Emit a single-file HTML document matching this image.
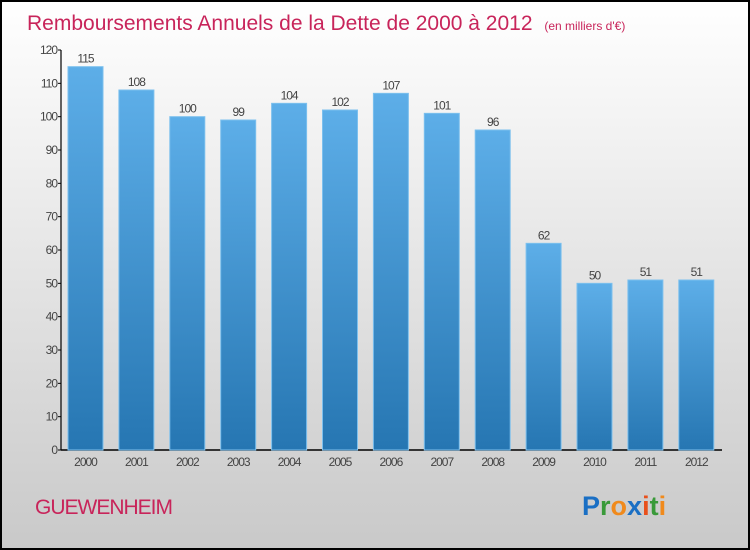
<!DOCTYPE html>
<html><head><meta charset="utf-8"><style>
body{margin:0;width:750px;height:550px;overflow:hidden}
svg{display:block;font-family:"Liberation Sans",sans-serif}
</style></head><body>
<svg id="c" width="750" height="550" xmlns="http://www.w3.org/2000/svg">
<defs>
<linearGradient id="bg" x1="0" y1="0" x2="0" y2="1"><stop offset="0" stop-color="#ffffff"/><stop offset="1" stop-color="#c9c9c9"/></linearGradient>
<linearGradient id="bar" x1="0" y1="0" x2="0" y2="1"><stop offset="0" stop-color="#5daee8"/><stop offset="1" stop-color="#2676b2"/></linearGradient>
</defs>
<rect x="1" y="1" width="748" height="548" fill="url(#bg)" stroke="#000" stroke-width="2"/>
<text x="27" y="30" font-size="21" fill="#c8245a">Remboursements Annuels de la Dette de 2000 à 2012 <tspan font-size="12" dx="6">(en milliers d'€)</tspan></text>
<g id="axes"></g>
<g id="bars"></g>
<text x="35" y="514" font-size="21" fill="#c8245a" letter-spacing="-1">GUEWENHEIM</text>
<text x="582" y="515" font-size="27" font-weight="bold"><tspan fill="#1a6fc4">P</tspan><tspan fill="#3a9a3a">r</tspan><tspan fill="#f08a1c">o</tspan><tspan fill="#1a6fc4">x</tspan><tspan fill="#e8501c">i</tspan><tspan fill="#3a9a3a">t</tspan><tspan fill="#f08a1c">i</tspan></text>
</svg>
<script>
const categories=["2000","2001","2002","2003","2004","2005","2006","2007","2008","2009","2010","2011","2012"];
const values=[115,108,100,99,104,102,107,101,96,62,50,51,51];
const yTicks=[0,10,20,30,40,50,60,70,80,90,100,110,120];
const NS="http://www.w3.org/2000/svg";
const x0=61,x1=722,yb=450,yt=50,ymax=120;
const y=v=>yb-(yb-yt)*v/ymax;
const step=50.9,first=85.5;
const xc=i=>first+i*step;
function mk(t,a,p,txt){const e=document.createElementNS(NS,t);for(const k in a)e.setAttribute(k,a[k]);if(txt!=null)e.textContent=txt;p.appendChild(e);return e;}
const ax=document.getElementById('axes'),bs=document.getElementById('bars');
let l=mk('line',{x1:x0,y1:yt,x2:x0,y2:yb,stroke:'#000','stroke-width':1.2},ax);


l=mk('line',{x1:x0,y1:yb,x2:x1,y2:yb,stroke:'#000','stroke-width':1.5},ax);


yTicks.forEach(v=>{
 mk('line',{x1:x0-3,y1:y(v),x2:x0,y2:y(v),stroke:'#000'},ax);
 const t=mk('text',{x:x0-4,y:y(v)+4,'font-size':12,fill:'#444','text-anchor':'end','letter-spacing':'-1'},ax,v);
 
 
});
values.forEach((v,i)=>{
 const r=mk('rect',{x:xc(i)-17.5,y:y(v),width:35,height:yb-y(v),fill:'url(#bar)',stroke:'#7cc0ee','stroke-width':1},bs);
 
 
 const t=mk('text',{x:xc(i),y:y(v)-4,'font-size':12,fill:'#444','text-anchor':'middle','letter-spacing':'-1'},bs,v);
 
 
 const c=mk('text',{x:xc(i),y:466,'font-size':12,fill:'#444','text-anchor':'middle','letter-spacing':'-1'},bs,categories[i]);
 
 
});
</script>
</body></html>
